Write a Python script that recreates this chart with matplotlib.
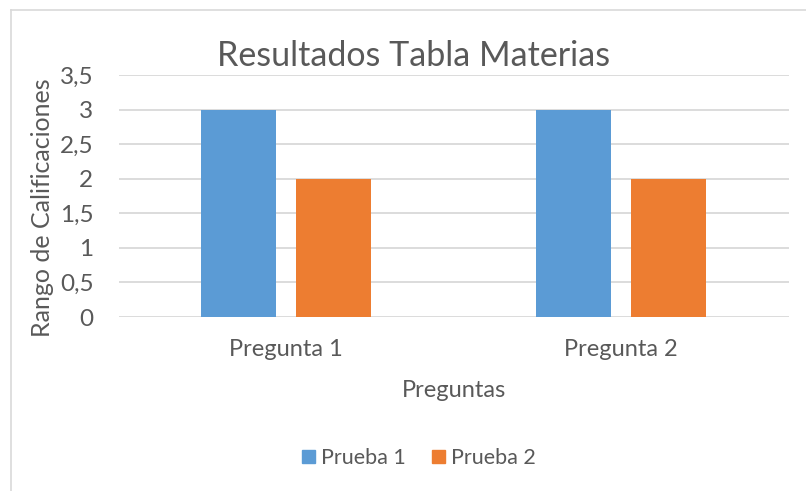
import matplotlib
matplotlib.use("Agg")
import matplotlib.pyplot as plt
from matplotlib.lines import Line2D
from matplotlib.ticker import FuncFormatter
import numpy as np

categories = ["Pregunta 1", "Pregunta 2"]
series_names = ["Prueba 1", "Prueba 2"]
prueba1 = [3, 3]
prueba2 = [2, 2]
colors = ["#5B9BD5", "#ED7D31"]
title = "Resultados Tabla Materias"
ylabel = "Rango de Calificaciones"
xlabel = "Preguntas"

plt.rcParams['font.family'] = ['Lato', 'DejaVu Sans']
txt = "#595959"
grid = "#D9D9D9"

fig = plt.figure(figsize=(8.06, 4.91), dpi=100)
ax = fig.add_axes([118.5 / 806, 1 - 317 / 491, 670 / 806, 242 / 491])

x = np.arange(len(categories))
w = 0.224
off = 0.1418
ax.bar(x - off, prueba1, w, color=colors[0], label=series_names[0], zorder=3)
ax.bar(x + off, prueba2, w, color=colors[1], label=series_names[1], zorder=3)

ax.set_xlim(-0.5, 1.5)
ax.set_ylim(0, 3.5)
ax.set_yticks(np.arange(0, 3.51, 0.5))
ax.yaxis.set_major_formatter(FuncFormatter(lambda v, p: ("%g" % v).replace(".", ",")))
ax.set_xticks(x)
ax.set_xticklabels(categories)
ax.grid(axis="y", color=grid, linewidth=1.3, zorder=0)
for s in ax.spines.values():
    s.set_visible(False)
ax.tick_params(axis="both", length=0, colors=txt)
ax.tick_params(axis="y", labelsize=17.5, pad=18)
ax.tick_params(axis="x", labelsize=17, pad=16)

ax.set_ylabel(ylabel, fontsize=18, color=txt)
ax.yaxis.set_label_coords(-0.096, 0.45)
ax.set_xlabel(xlabel, fontsize=17, color=txt, labelpad=14)

fig.text(414 / 806, 1 - 56 / 491, title, fontsize=24.5, color=txt, ha="center", va="center")

handles = [plt.Rectangle((0, 0), 1, 1, color=c) for c in colors]
fig.legend(handles, series_names, loc="center", bbox_to_anchor=(419 / 806, 1 - 458 / 491),
           ncol=2, frameon=False, fontsize=15.5, labelcolor=txt, handlelength=0.6,
           handleheight=0.6, handletextpad=0.3, columnspacing=1.2)

# chart area border (left and top visible)
fig.add_artist(Line2D([10.5 / 806, 10.5 / 806], [0, 1 - 9.5 / 491], transform=fig.transFigure,
                      color="#D9D9D9", linewidth=1.2))
fig.add_artist(Line2D([10.5 / 806, 1], [1 - 9.5 / 491, 1 - 9.5 / 491], transform=fig.transFigure,
                      color="#D9D9D9", linewidth=1.2))

fig.savefig("out.png", dpi=100)
